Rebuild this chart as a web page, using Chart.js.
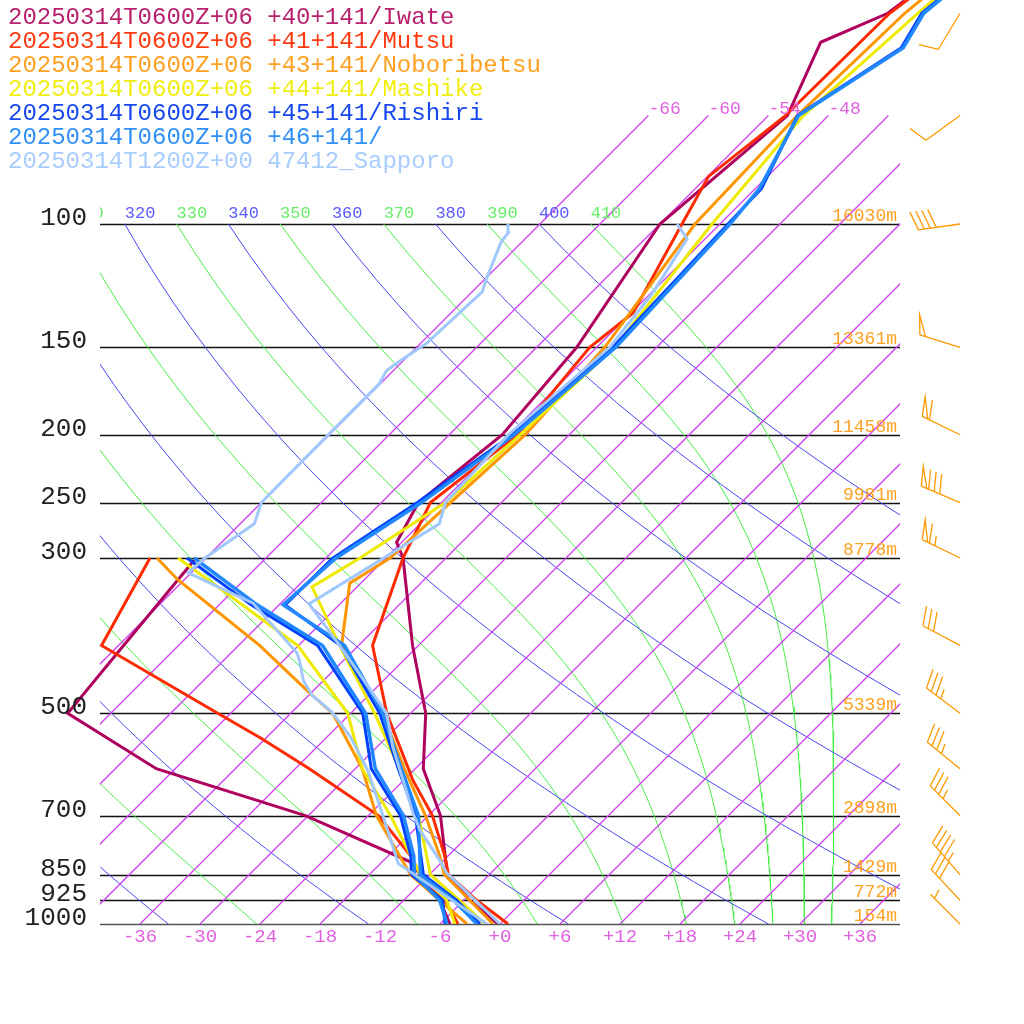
<!DOCTYPE html>
<html>
<head>
<meta charset="utf-8">
<script src="https://cdn.jsdelivr.net/npm/chart.js@4"></script>
<style>
  html, body { margin: 0; padding: 0; background: #fff; }
  canvas { display: block; }
</style>
</head>
<body>
<canvas id="c" width="1024" height="1024"></canvas>
<script>
// ---- sounding data (pressure hPa, temperature / dewpoint degC) ----
const iwateTP  = [1000,925,850,700,600,500,400,300,285,250,200,150,100,70,55,50,48];
const iwateT   = [-0.2,-5.4,-10.2,-16.8,-23.2,-28.5,-36.6,-46.3,-48.5,-50.3,-48.7,-50.0,-54.0,-52.1,-56.1,-52.3,-51.9];
const iwateDP  = [1000,925,850,815,700,600,500,400,300];
const iwateTd  = [-5.0,-8.4,-12.9,-15.2,-30.3,-49.9,-64.3,-65.5,-67.0];

const mutsuTP  = [1000,925,850,800,700,623,500,400,300,250,200,150,134,100,85.5,70,50,47];
const mutsuT   = [0.8,-4.7,-10.1,-12.3,-17.6,-23.1,-32.4,-40.6,-46.3,-49.1,-47.2,-48.7,-47.8,-51.8,-53.9,-52.3,-52.1,-51.5];
const mutsuDP  = [1000,925,850,800,700,600,542,500,400,300];
const mutsuTd  = [-4.2,-7.9,-12.9,-15.7,-23.0,-34.6,-42.6,-49.3,-67.7,-71.6];

const noboTP   = [1000,925,850,800,700,600,500,400,326,300,250,200,150,100,70,50,47];
const noboT    = [-0.7,-5.4,-10.5,-12.8,-18.3,-25.1,-32.8,-43.7,-49.1,-47.6,-47.1,-46.4,-47.2,-50.5,-51.1,-50.6,-50.2];
const noboDP   = [1000,925,850,800,700,600,500,468,400,322,300];
const noboTd   = [-3.3,-8.4,-13.9,-16.8,-23.2,-29.3,-37.8,-42.1,-51.9,-66.7,-70.9];

const mashTP   = [1000,925,850,700,600,500,400,330,300,250,200,150,100,70,50,47];
const mashT    = [-1.5,-6.4,-11.9,-19.0,-25.6,-33.6,-43.9,-52.5,-50.6,-47.6,-46.9,-46.2,-48.8,-50.5,-49.3,-49.0];
const mashDP   = [1000,925,850,700,600,500,400,337,300];
const mashTd   = [-4.5,-7.7,-12.9,-21.8,-29.3,-36.3,-48.1,-60.4,-68.8];

const rishTP   = [1000,925,850,700,600,500,400,350,300,250,200,150,100,89,70,56,50,47];
const rishT    = [-2.0,-6.7,-12.6,-19.3,-25.7,-33.1,-43.8,-53.4,-53.3,-50.4,-47.7,-46.4,-47.2,-47.4,-51.1,-47.5,-48.9,-48.5];
const rishDP   = [1000,925,850,800,700,600,500,400,350,300];
const rishTd   = [-5.5,-8.1,-13.8,-15.7,-20.8,-28.4,-34.8,-46.1,-56.8,-67.9];

const p46T     = [-2.3,-7.0,-12.9,-19.0,-25.4,-32.8,-43.4,-53.6,-53.0,-50.0,-47.5,-46.1,-47.0,-47.6,-51.0,-47.3,-48.7,-48.3];
const p46Td    = [-5.3,-8.4,-13.5,-15.4,-20.5,-28.0,-34.5,-45.6,-56.2,-67.2];

const sappTP   = [1000,846,811,734,694,559,500,400,349,268,250,200,150,126,105,100];
const sappT    = [0.0,-10.4,-12.4,-17.4,-19.8,-28.4,-32.4,-43.9,-51.1,-46.1,-47.6,-48.1,-46.7,-47.8,-49.8,-52.3];
const sappDP   = [1000,820,694,603,540,498,471,448,426,410,348,315,300,268,250,204,169,162,158,148,125,119,106,103,100];
const sappTd   = [-1.3,-16.2,-22.9,-28.6,-33.7,-38.0,-41.7,-44.1,-45.9,-47.4,-56.8,-66.3,-66.1,-64.6,-66.0,-66.1,-66.1,-66.7,-66.4,-65.4,-65.0,-66.0,-68.1,-68.3,-69.2];

const legendLines = [
  "20250314T0600Z+06 +40+141/Iwate",
  "20250314T0600Z+06 +41+141/Mutsu",
  "20250314T0600Z+06 +43+141/Noboribetsu",
  "20250314T0600Z+06 +44+141/Mashike",
  "20250314T0600Z+06 +45+141/Rishiri",
  "20250314T0600Z+06 +46+141/",
  "20250314T1200Z+00 47412_Sapporo"
];
const lineColors   = ["#b0005e","#ff2a00","#ff9500","#eeea00","#0040ff","#2288ff","#a0c8ff"];
const legendColors = ["#b8206e","#ff3a10","#ffa020","#f0ee10","#1848f0","#3090f8","#a8ccff"];

// standard levels, heights
const levelP      = [100,150,200,250,300,500,700,850,925,1000];
const heightLabel = ["16030m","13361m","11458m","9981m","8778m","5339m","2898m","1429m","772m","154m"];
const tempTicks   = [-36,-30,-24,-18,-12,-6,0,6,12,18,24,30,36];
const isoTopTicks = [-66,-60,-54,-48];

// wind barbs (pressure, direction deg, speed kt)
const windP   = [50,70,100,150,200,250,300,400,500,600,700,850,925,1000];
const windDir = [211,234,262,287,296,293,296,298,307,309,315,319,317,315];
const windSpd = [10,10,40,50,60,80,65,30,35,35,35,45,30,5];

// ---- skew-T geometry ----
const P_TOP = 1000 * Math.pow(10, -924 / 700);
const skew = (t, p) => t + 70 * Math.log10(1000 / p);
const pts = (P, T) => P.map((p, i) => ({ x: skew(T[i], p), y: p }));

function profile(P, T, color, w){
  return { data: pts(P, T), borderColor: color, backgroundColor: color, borderWidth: w,
           pointRadius: 0, showLine: true, fill: false, tension: 0, order: 1 };
}
const clipBox = { left: -100, top: 0, right: -60, bottom: 0 };
function guide(data, color, w){
  return { data, borderColor: color, backgroundColor: color, borderWidth: w || 1, pointRadius: 0,
           showLine: true, fill: false, tension: 0, order: 10, clip: clipBox };
}

const datasets = [];
datasets.push(profile(sappTP, sappT, lineColors[6], 3));
datasets.push(profile(sappDP, sappTd, lineColors[6], 3));
datasets.push(profile(rishTP, p46T, lineColors[5], 3.5));
datasets.push(profile(rishDP, p46Td, lineColors[5], 3.5));
datasets.push(profile(rishTP, rishT, lineColors[4], 3));
datasets.push(profile(rishDP, rishTd, lineColors[4], 3));
datasets.push(profile(mashTP, mashT, lineColors[3], 3));
datasets.push(profile(mashDP, mashTd, lineColors[3], 3));
datasets.push(profile(noboTP, noboT, lineColors[2], 3));
datasets.push(profile(noboDP, noboTd, lineColors[2], 3));
datasets.push(profile(mutsuTP, mutsuT, lineColors[1], 3));
datasets.push(profile(mutsuDP, mutsuTd, lineColors[1], 3));
datasets.push(profile(iwateTP, iwateT, lineColors[0], 3));
datasets.push(profile(iwateDP, iwateTd, lineColors[0], 3));

// isotherms from 1000 to 70 hPa
for (let t = -66; t <= 36; t += 6){
  datasets.push(guide([{ x: skew(t, 1000), y: 1000 }, { x: skew(t, 70), y: 70 }], "#d040f0", 1.3));
}
// dry adiabats
const dryTheta = [];
for (let th = 200; th <= 400; th += 20) dryTheta.push(th);
dryTheta.forEach(th => {
  const d = [];
  for (let p = 100; p <= 1000; p += 10){
    d.push({ x: skew(th * Math.pow(p / 1000, 0.286) - 273.15, p), y: p });
  }
  datasets.push(guide(d, "rgb(70,70,238)"));
});
// moist adiabats, integrated down from 100 hPa
const moistTheta = [];
for (let th = 230; th <= 410; th += 20) moistTheta.push(th);
function es(T){ return 6.112 * Math.exp(17.67 * (T - 273.15) / (T - 29.65)); }
moistTheta.forEach(th => {
  let T = th * Math.pow(0.1, 0.286);
  const d = [{ x: skew(T - 273.15, 100), y: 100 }];
  const dp = 1;
  for (let p = 100; p < 1000; p += dp){
    const rs = 0.622 * es(T) / (p - es(T));
    const dTdp = (287 * T + 2.5e6 * rs) / (p * (1004 + 2.5e6 * 2.5e6 * rs * 0.622 / (287 * T * T)));
    T += dTdp * dp;
    if ((p + dp) % 10 === 0) d.push({ x: skew(T - 273.15, p + dp), y: p + dp });
  }
  datasets.push(guide(d, "rgb(68,238,68)"));
});

// ---- drawing helpers ----
const MONO = '"Liberation Mono", "DejaVu Sans Mono", monospace';

function drawBarb(ctx, x0, y0, dir, spd){
  const r = dir * Math.PI / 180;
  const u = { x: Math.sin(r), y: -Math.cos(r) };
  const f = { x: -u.y * 0.95 + u.x * 0.3, y: u.x * 0.95 + u.y * 0.3 };
  const L = 42, F = 20, S = 6;
  const tx = x0 + u.x * L, ty = y0 + u.y * L;
  ctx.beginPath();
  ctx.moveTo(x0, y0); ctx.lineTo(tx, ty);
  let s = Math.round(spd / 5) * 5;
  let pos = 0;
  const at = (k) => ({ x: tx - u.x * k, y: ty - u.y * k });
  while (s >= 50){
    const a = at(pos), b = at(pos + S);
    ctx.moveTo(a.x, a.y); ctx.lineTo(a.x + f.x * F, a.y + f.y * F); ctx.lineTo(b.x, b.y);
    pos += S + 2; s -= 50;
  }
  while (s >= 10){
    const a = at(pos);
    ctx.moveTo(a.x, a.y); ctx.lineTo(a.x + f.x * F, a.y + f.y * F);
    pos += S; s -= 10;
  }
  if (s >= 5){
    if (pos === 0) pos = S;
    const a = at(pos);
    ctx.moveTo(a.x, a.y); ctx.lineTo(a.x + f.x * F / 2, a.y + f.y * F / 2);
  }
  ctx.stroke();
}

const skewPlugin = {
  id: "skewDecor",
  beforeDatasetsDraw(chart){
    const ctx = chart.ctx, ys = chart.scales.y;
    ctx.save();
    levelP.forEach(p => {
      const y = Math.round(ys.getPixelForValue(p)) + 0.5;
      ctx.strokeStyle = p === 1000 ? "#555" : "#111";
      ctx.lineWidth = 1.5;
      ctx.beginPath(); ctx.moveTo(100, y); ctx.lineTo(900, y); ctx.stroke();
    });
    ctx.restore();
  },
  afterDraw(chart){
    const ctx = chart.ctx, xs = chart.scales.x, ys = chart.scales.y;
    ctx.save();
    // pressure labels
    ctx.fillStyle = "#222";
    ctx.font = "26px " + MONO;
    ctx.textAlign = "right"; ctx.textBaseline = "alphabetic";
    levelP.forEach(p => ctx.fillText(String(p), 87, ys.getPixelForValue(p) + 1));
    // heights
    ctx.fillStyle = "#ffa020";
    ctx.font = "18px " + MONO;
    levelP.forEach((p, i) => ctx.fillText(heightLabel[i], 897, ys.getPixelForValue(p) - 3));
    // bottom temperature ticks
    ctx.fillStyle = "#e060e0";
    ctx.font = "19px " + MONO;
    ctx.textAlign = "center"; ctx.textBaseline = "middle";
    tempTicks.forEach(t => {
      const lab = t > 0 ? "+" + t : (t === 0 ? "+0" : "-" + (-t));
      ctx.fillText(lab, xs.getPixelForValue(t), 937);
    });
    // isotherm labels at 70 hPa
    ctx.textAlign = "left";
    ctx.font = "18px " + MONO;
    isoTopTicks.forEach(t => {
      ctx.fillText(String(t), xs.getPixelForValue(skew(t, 70)), ys.getPixelForValue(70) - 6);
    });
    // adiabat labels at 100 hPa
    ctx.save();
    ctx.beginPath(); ctx.rect(100, 190, 800, 40); ctx.clip();
    ctx.font = "17px " + MONO;
    const y100 = ys.getPixelForValue(100) - 11;
    dryTheta.forEach(th => {
      if (th < 300) return;
      ctx.fillStyle = "#5a5aff";
      ctx.fillText(String(th), xs.getPixelForValue(skew(th * Math.pow(0.1, 0.286) - 273.15, 100)), y100);
    });
    moistTheta.forEach(th => {
      if (th < 300) return;
      ctx.fillStyle = "#66ee66";
      ctx.fillText(String(th), xs.getPixelForValue(skew(th * Math.pow(0.1, 0.286) - 273.15, 100)), y100);
    });
    ctx.restore();
    // wind barbs
    ctx.strokeStyle = "#ff9900";
    ctx.lineWidth = 1.3;
    windP.forEach((p, i) => drawBarb(ctx, 960, ys.getPixelForValue(p), windDir[i], windSpd[i]));
    // legend
    ctx.font = "24px " + MONO;
    ctx.textAlign = "left"; ctx.textBaseline = "middle";
    legendLines.forEach((s, i) => {
      ctx.fillStyle = legendColors[i];
      ctx.fillText(s, 8, 18 + i * 24);
    });
    ctx.restore();
  }
};

new Chart(document.getElementById("c"), {
  type: "scatter",
  data: { datasets },
  options: {
    responsive: false,
    animation: false,
    layout: { padding: { left: 0, right: 64, top: 0, bottom: 100 } },
    plugins: { legend: { display: false }, tooltip: { enabled: false } },
    scales: {
      x: { type: "linear", min: -50, max: 46, display: false },
      y: { type: "logarithmic", min: P_TOP, max: 1000, reverse: true, display: false }
    }
  },
  plugins: [skewPlugin]
});
</script>
</body>
</html>
